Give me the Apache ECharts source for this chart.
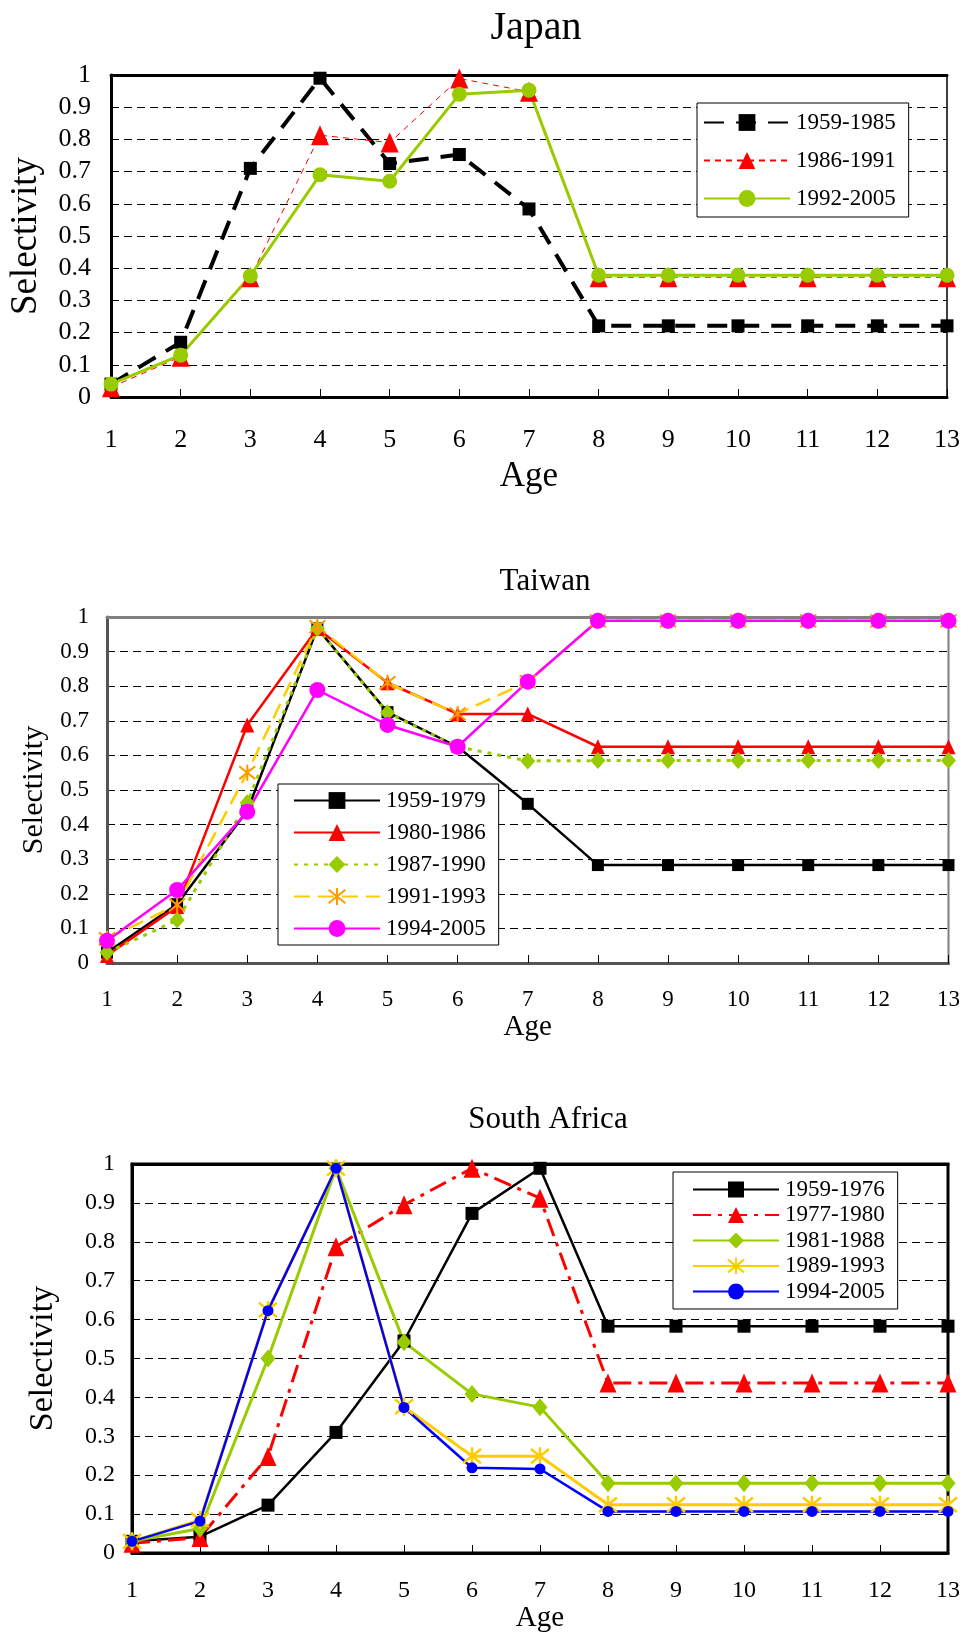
<!DOCTYPE html>
<html>
<head>
<meta charset="utf-8">
<script src="https://cdn.jsdelivr.net/npm/echarts@6/dist/echarts.min.js"></script>
<style>
html,body{margin:0;padding:0;background:#fff;}
#c{width:963px;height:1642px;}
</style>
</head>
<body>
<div id="c"></div>
<script>
// ---- categories / tick labels ----
const ages = ['1','2','3','4','5','6','7','8','9','10','11','12','13'];

// ---- Japan ----
const jpNames = ['1959-1985','1986-1991','1992-2005'];
const jp1959_1985 = [0.04, 0.17, 0.71, 0.99, 0.725, 0.753, 0.584, 0.221, 0.221, 0.221, 0.221, 0.221, 0.221];
const jp1986_1991 = [0.03, 0.125, 0.372, 0.813, 0.79, 0.989, 0.948, 0.372, 0.372, 0.372, 0.372, 0.372, 0.372];
const jp1992_2005 = [0.04, 0.13, 0.376, 0.69, 0.67, 0.94, 0.953, 0.378, 0.378, 0.378, 0.378, 0.378, 0.378];

// ---- Taiwan ----
const twNames = ['1959-1979','1980-1986','1987-1990','1991-1993','1994-2005'];
const tw1959_1979 = [0.03, 0.17, 0.44, 0.967, 0.725, 0.625, 0.46, 0.283, 0.283, 0.283, 0.283, 0.283, 0.283];
const tw1980_1986 = [0.022, 0.163, 0.688, 0.967, 0.81, 0.72, 0.72, 0.625, 0.625, 0.625, 0.625, 0.625, 0.625];
const tw1987_1990 = [0.03, 0.124, 0.463, 0.967, 0.723, 0.625, 0.584, 0.585, 0.585, 0.585, 0.585, 0.585, 0.585];
const tw1991_1993 = [0.07, 0.168, 0.55, 0.972, 0.81, 0.72, 0.813, 0.989, 0.989, 0.989, 0.989, 0.989, 0.989];
const tw1994_2005 = [0.064, 0.211, 0.437, 0.789, 0.688, 0.625, 0.813, 0.989, 0.989, 0.989, 0.989, 0.989, 0.989];

// ---- South Africa ----
const saNames = ['1959-1976','1977-1980','1981-1988','1989-1993','1994-2005'];
const sa1959_1976 = [0.03, 0.042, 0.123, 0.31, 0.545, 0.873, 0.989, 0.583, 0.583, 0.583, 0.583, 0.583, 0.583];
const sa1977_1980 = [0.025, 0.04, 0.248, 0.787, 0.895, 0.989, 0.912, 0.437, 0.437, 0.437, 0.437, 0.437, 0.437];
const sa1981_1988 = [0.03, 0.063, 0.5, 0.989, 0.542, 0.409, 0.375, 0.179, 0.179, 0.179, 0.179, 0.179, 0.179];
const sa1989_1993 = [0.03, 0.085, 0.625, 0.989, 0.376, 0.249, 0.249, 0.124, 0.124, 0.124, 0.124, 0.124, 0.124];
const sa1994_2005 = [0.03, 0.082, 0.623, 0.989, 0.374, 0.219, 0.216, 0.107, 0.107, 0.107, 0.107, 0.107, 0.107];

const FONT = "'Liberation Serif','Times New Roman',serif";
const STAR = 'path://M1,1L9,9M9,1L1,9M5,0L5,10';

const grids = [
  {left: 111, top: 75, width: 836, height: 322, show: true, borderColor: '#000', borderWidth: 1.5, backgroundColor: '#fff'},
  {left: 107, top: 617, width: 843, height: 346, show: true, borderColor: '#808080', borderWidth: 2, backgroundColor: '#fff'},
  {left: 132, top: 1164, width: 817, height: 389, show: true, borderColor: '#000', borderWidth: 3, backgroundColor: '#fff'}
];

const xCfg = [
  {font: 26, margin: 30, nameSize: 35, nameGap: 62, lineColor: '#000'},
  {font: 23, margin: 25, nameSize: 29, nameGap: 50, lineColor: '#555'},
  {font: 24, margin: 26, nameSize: 29, nameGap: 49, lineColor: '#000'}
];
const yCfg = [
  {font: 26, margin: 20, nameSize: 37, nameGap: 66, lineColor: '#000'},
  {font: 23, margin: 18, nameSize: 30, nameGap: 56, lineColor: '#555'},
  {font: 24, margin: 17, nameSize: 34, nameGap: 72, lineColor: '#000'}
];

const xAxes = [], yAxes = [];
for (let i = 0; i < 3; i++) {
  xAxes.push({
    type: 'category', gridIndex: i, data: ages, boundaryGap: false,
    name: 'Age', nameLocation: 'middle', nameGap: xCfg[i].nameGap,
    nameTextStyle: {fontFamily: FONT, fontSize: xCfg[i].nameSize, color: '#000'},
    axisLine: {show: true, lineStyle: {color: xCfg[i].lineColor, width: 3}},
    axisTick: {show: true, inside: true, length: 8, lineStyle: {color: '#000', width: 1}},
    axisLabel: {fontFamily: FONT, fontSize: xCfg[i].font, color: '#000', margin: xCfg[i].margin, interval: 0},
    splitLine: {show: false}
  });
  // top border line
  xAxes.push({
    type: 'category', gridIndex: i, data: ages, boundaryGap: false, position: 'top',
    axisLine: {show: true, lineStyle: {color: i === 1 ? '#808080' : '#000', width: 3}},
    axisTick: {show: false}, axisLabel: {show: false}, splitLine: {show: false}
  });
  yAxes.push({
    type: 'value', gridIndex: i, min: 0, max: 1, interval: 0.1,
    name: 'Selectivity', nameLocation: 'middle', nameGap: yCfg[i].nameGap, nameRotate: 90,
    nameTextStyle: {fontFamily: FONT, fontSize: yCfg[i].nameSize, color: '#000'},
    axisLine: {show: true, lineStyle: {color: yCfg[i].lineColor, width: 3}},
    axisTick: {show: false},
    axisLabel: {fontFamily: FONT, fontSize: yCfg[i].font, color: '#000', margin: yCfg[i].margin},
    splitLine: {show: true, lineStyle: {color: '#000', width: 1, type: [8, 5]}}
  });
}

const PREFIX = ['JP|', 'TW|', 'SA|'];

function line(name, data, gi, o) {
  return {
    name: PREFIX[gi] + name, type: 'line', xAxisIndex: gi * 2, yAxisIndex: gi, data: data,
    symbol: o.symbol, symbolSize: o.size, showSymbol: true, clip: false,
    lineStyle: {color: o.color, width: o.width, type: o.type || 'solid'},
    itemStyle: o.item || {color: o.mcolor || o.color},
    z: o.z || 2, animation: false
  };
}

const series = [
  line(jpNames[0], jp1959_1985, 0, {symbol: 'rect', size: 13, color: '#000', width: 4, type: [20, 12]}),
  line(jpNames[1], jp1986_1991, 0, {symbol: 'triangle', size: [18, 20], color: '#FF0000', width: 1, type: [6, 5]}),
  line(jpNames[2], jp1992_2005, 0, {symbol: 'circle', size: 15, color: '#99CC00', width: 3}),

  line(twNames[0], tw1959_1979, 1, {symbol: 'rect', size: 12, color: '#000', width: 2.5}),
  line(twNames[1], tw1980_1986, 1, {symbol: 'triangle', size: [14, 15], color: '#FF0000', width: 2.5}),
  line(twNames[2], tw1987_1990, 1, {symbol: 'diamond', size: [15, 17], color: '#99CC00', width: 3, type: [4, 6]}),
  line(twNames[3], tw1991_1993, 1, {symbol: STAR, size: 16, color: '#FFCC00', width: 2.5, type: [16, 8],
      item: {color: 'rgba(0,0,0,0)', borderColor: '#FF9900', borderWidth: 2}}),
  line(twNames[4], tw1994_2005, 1, {symbol: 'circle', size: 16, color: '#FF00FF', width: 2.5}),

  line(saNames[0], sa1959_1976, 2, {symbol: 'rect', size: 13, color: '#000', width: 2.5}),
  line(saNames[1], sa1977_1980, 2, {symbol: 'triangle', size: [17, 19], color: '#FF0000', width: 3, type: [18, 7, 4, 7]}),
  line(saNames[2], sa1981_1988, 2, {symbol: 'diamond', size: [15, 18], color: '#99CC00', width: 3}),
  line(saNames[3], sa1989_1993, 2, {symbol: STAR, size: 18, color: '#FFCC00', width: 3,
      item: {color: 'rgba(0,0,0,0)', borderColor: '#FFCC00', borderWidth: 2.5}}),
  line(saNames[4], sa1994_2005, 2, {symbol: 'circle', size: 11, color: '#0000FF', width: 2.5})
];

function legend(gi, names, left, top, gap, pad, ih) {
  return {
    data: names.map(n => PREFIX[gi] + n), orient: 'vertical', left: left, top: top,
    itemWidth: 86, itemHeight: ih, itemGap: gap, padding: pad,
    backgroundColor: '#fff', borderColor: '#000', borderWidth: 1,
    formatter: n => n.split('|')[1],
    textStyle: {fontFamily: FONT, fontSize: 23, color: '#000', lineHeight: 23, padding: [0, 0, 0, 1]},
    selectedMode: false
  };
}

const option = {
  backgroundColor: '#fff',
  animation: false,
  title: [
    {text: 'Japan', left: 536, top: 8, textAlign: 'center', padding: 0, textStyle: {fontFamily: FONT, fontSize: 40, fontWeight: 'normal', color: '#000'}},
    {text: 'Taiwan', left: 545, top: 566, textAlign: 'center', padding: 0, textStyle: {fontFamily: FONT, fontSize: 31, fontWeight: 'normal', color: '#000'}},
    {text: 'South Africa', left: 548, top: 1104, textAlign: 'center', padding: 0, textStyle: {fontFamily: FONT, fontSize: 31, fontWeight: 'normal', color: '#000'}}
  ],
  legend: [
    legend(0, jpNames, 697, 103, 15, [8, 13, 7, 6], 21),
    legend(1, twNames, 278, 784, 9, [5, 13, 5, 15], 21),
    legend(2, saNames, 673, 1172, 2.5, [6, 13, 6, 19], 20)
  ],
  grid: grids,
  xAxis: xAxes,
  yAxis: yAxes,
  series: series
};

const chart = echarts.init(document.getElementById('c'), null, {renderer: 'canvas'});
chart.setOption(option);
</script>
</body>
</html>
